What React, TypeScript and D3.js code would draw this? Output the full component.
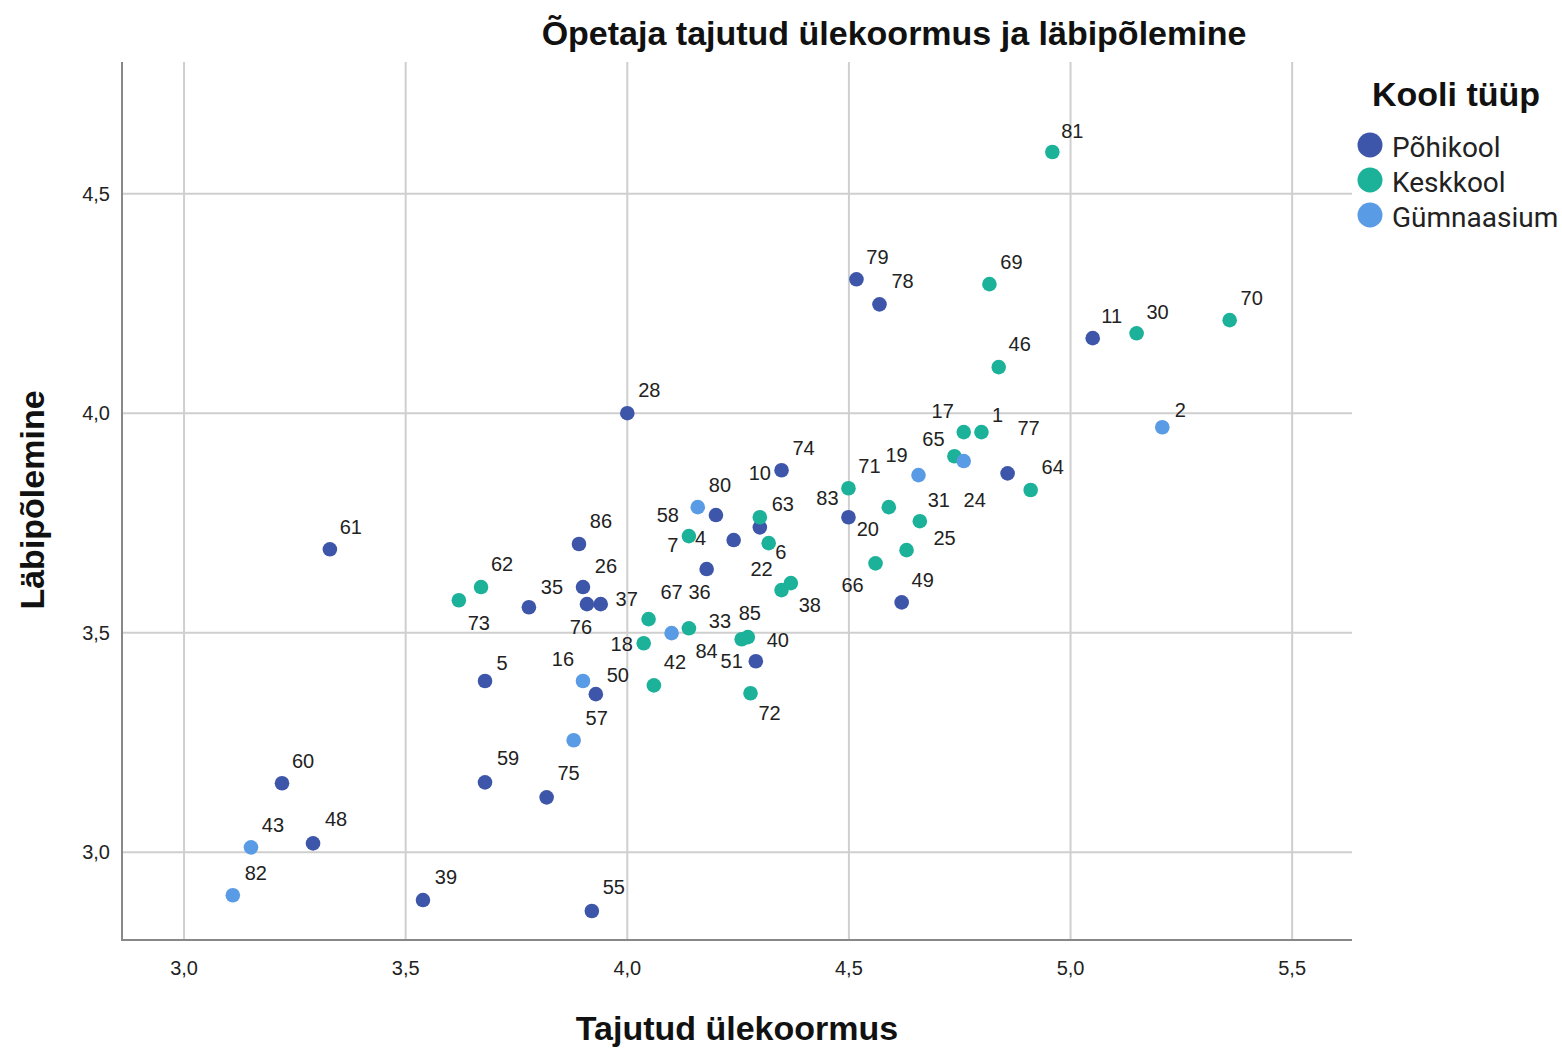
import React, { useEffect, useRef } from "react";
import * as d3 from "d3";

const groups = ["Põhikool", "Keskkool", "Gümnaasium"];
const groupColors = ["#3D56A9", "#1CB29A", "#5A9BE6"];

// Põhikool
const pIds = [61, 28, 86, 26, 35, 76, 37, 5, 50, 60, 59, 75, 48, 39, 55, 79, 78, 11, 74, 49, 77, 83, 40, 80, 10, 4, 36];
const pX = [3.329, 4.0, 3.891, 3.9, 3.778, 3.909, 3.94, 3.679, 3.929, 3.221, 3.679, 3.818, 3.291, 3.539, 3.92, 4.517, 4.569, 5.05, 4.348, 4.619, 4.858, 4.499, 4.29, 4.2, 4.299, 4.24, 4.179];
const pY = [3.69, 4.0, 3.702, 3.604, 3.558, 3.565, 3.565, 3.39, 3.36, 3.157, 3.159, 3.125, 3.02, 2.891, 2.866, 4.305, 4.248, 4.171, 3.87, 3.569, 3.863, 3.763, 3.435, 3.768, 3.74, 3.711, 3.645];

// Keskkool
const kIds = [81, 69, 30, 70, 46, 17, 1, 65, 64, 71, 20, 31, 25, 66, 63, 7, 6, 38, 22, 67, 33, 18, 42, 51, 85, 72, 62, 73];
const kX = [4.959, 4.817, 5.149, 5.359, 4.838, 4.759, 4.799, 4.738, 4.91, 4.499, 4.59, 4.66, 4.63, 4.56, 4.299, 4.139, 4.319, 4.369, 4.348, 4.048, 4.139, 4.037, 4.06, 4.258, 4.272, 4.278, 3.67, 3.62];
const kY = [4.595, 4.294, 4.182, 4.212, 4.105, 3.957, 3.957, 3.902, 3.825, 3.829, 3.786, 3.754, 3.688, 3.658, 3.763, 3.72, 3.704, 3.613, 3.597, 3.531, 3.51, 3.476, 3.38, 3.485, 3.49, 3.362, 3.604, 3.574];

// Gümnaasium
const gIds = [2, 24, 19, 58, 84, 16, 57, 43, 82];
const gX = [5.207, 4.759, 4.657, 4.159, 4.1, 3.9, 3.879, 3.151, 3.11];
const gY = [3.968, 3.891, 3.859, 3.786, 3.499, 3.39, 3.255, 3.011, 2.902];

const xTicks = [3.0, 3.5, 4.0, 4.5, 5.0, 5.5];
const yTicks = [3.0, 3.5, 4.0, 4.5];

// label placement offsets (px) relative to the point, keyed by case id
const labelOffsets: Record<number, [number, number]> = {
  61: [21, -22], 28: [22, -23], 86: [22, -23], 26: [23, -21], 35: [23, -20], 76: [-6, 23], 37: [26, -5],
  5: [17, -18], 50: [22, -19], 60: [21, -22], 59: [23, -24], 75: [22, -24], 48: [23, -24], 39: [23, -23],
  55: [22, -24], 79: [21, -22], 78: [23, -23], 11: [19, -22], 74: [22, -22], 49: [21, -22], 77: [21, -45],
  83: [-21, -19], 40: [22, -21], 80: [4, -30], 10: [0, -54], 4: [-33, -2], 36: [-7, 23],
  81: [20, -21], 69: [22, -22], 30: [21, -21], 70: [22, -22], 46: [21, -23], 17: [-21, -21], 1: [16, -17],
  65: [-21, -17], 64: [22, -23], 71: [21, -22], 20: [-21, 22], 31: [19, -21], 25: [38, -12], 66: [-23, 22],
  63: [23, -13], 7: [-16, 9], 6: [12, 9], 38: [19, 22], 22: [-20, -21], 67: [23, -27], 33: [31, -7],
  18: [-22, 1], 42: [21, -23], 51: [-10, 22], 85: [2, -24], 72: [19, 20], 62: [21, -23], 73: [20, 23],
  2: [18, -17], 24: [11, 39], 19: [-22, -20], 58: [-30, 8], 84: [35, 18], 16: [-20, -22], 57: [23, -22],
  43: [22, -22], 82: [23, -22],
};

type Pt = { id: number; x: number; y: number; g: number };

export default function App() {
  const ref = useRef<SVGSVGElement | null>(null);

  useEffect(() => {
    const svg = d3.select(ref.current);
    svg.selectAll("*").remove();
    const W = 1562, H = 1048;
    const left = 122, right = 1352, top = 62, bottom = 940;

    const x = d3.scaleLinear().domain([2.86, 5.635]).range([left, right]);
    const y = d3.scaleLinear().domain([2.8, 4.8]).range([bottom, top]);

    const pts: Pt[] = [];
    pIds.forEach((id, i) => pts.push({ id, x: pX[i], y: pY[i], g: 0 }));
    kIds.forEach((id, i) => pts.push({ id, x: kX[i], y: kY[i], g: 1 }));
    gIds.forEach((id, i) => pts.push({ id, x: gX[i], y: gY[i], g: 2 }));

    const fmt = (v: number) => d3.format(".1f")(v).replace(".", ",");
    const font = "'Liberation Sans', Arial, sans-serif";

    svg.append("rect").attr("width", W).attr("height", H).attr("fill", "#fff");

    // grid
    svg.append("g").selectAll("line").data(xTicks).join("line")
      .attr("x1", d => x(d)).attr("x2", d => x(d)).attr("y1", top).attr("y2", bottom)
      .attr("stroke", "#cfcfcf").attr("stroke-width", 2);
    svg.append("g").selectAll("line").data(yTicks).join("line")
      .attr("x1", left).attr("x2", right).attr("y1", d => y(d)).attr("y2", d => y(d))
      .attr("stroke", "#cfcfcf").attr("stroke-width", 2);

    // axes
    svg.append("line").attr("x1", left).attr("x2", left).attr("y1", top).attr("y2", bottom + 1)
      .attr("stroke", "#888").attr("stroke-width", 2);
    svg.append("line").attr("x1", left - 1).attr("x2", right).attr("y1", bottom).attr("y2", bottom)
      .attr("stroke", "#888").attr("stroke-width", 2);

    // tick labels
    svg.append("g").selectAll("text").data(xTicks).join("text")
      .attr("x", d => x(d)).attr("y", bottom + 35).attr("text-anchor", "middle")
      .attr("font-family", font).attr("font-size", 20).attr("fill", "#222").text(d => fmt(d));
    svg.append("g").selectAll("text").data(yTicks).join("text")
      .attr("x", left - 12).attr("y", d => y(d) + 7).attr("text-anchor", "end")
      .attr("font-family", font).attr("font-size", 20).attr("fill", "#222").text(d => fmt(d));

    // points
    svg.append("g").selectAll("circle").data(pts).join("circle")
      .attr("cx", d => x(d.x)).attr("cy", d => y(d.y)).attr("r", 7.3)
      .attr("fill", d => groupColors[d.g]);

    // labels
    svg.append("g").selectAll("text").data(pts).join("text")
      .attr("x", d => x(d.x) + (labelOffsets[d.id]?.[0] ?? 21))
      .attr("y", d => y(d.y) + (labelOffsets[d.id]?.[1] ?? -22) + 7)
      .attr("text-anchor", "middle")
      .attr("font-family", font).attr("font-size", 20).attr("fill", "#222")
      .text(d => String(d.id));

    // titles
    svg.append("text").attr("x", 894).attr("y", 45).attr("text-anchor", "middle")
      .attr("font-family", font).attr("font-weight", "bold").attr("font-size", 34)
      .attr("fill", "#111").text("Õpetaja tajutud ülekoormus ja läbipõlemine");
    svg.append("text").attr("x", 737).attr("y", 1040).attr("text-anchor", "middle")
      .attr("font-family", font).attr("font-weight", "bold").attr("font-size", 34)
      .attr("fill", "#111").text("Tajutud ülekoormus");
    svg.append("text").attr("transform", `translate(44, 500) rotate(-90)`)
      .attr("text-anchor", "middle")
      .attr("font-family", font).attr("font-weight", "bold").attr("font-size", 34)
      .attr("fill", "#111").text("Läbipõlemine");

    // legend
    const lg = svg.append("g");
    lg.append("text").attr("x", 1372).attr("y", 106)
      .attr("font-family", font).attr("font-weight", "bold").attr("font-size", 34)
      .attr("fill", "#111").text("Kooli tüüp");
    const items = lg.selectAll("g.item").data(groups).join("g").attr("class", "item")
      .attr("transform", (_, i) => `translate(0, ${145 + i * 35})`);
    items.append("circle").attr("cx", 1370).attr("cy", 0).attr("r", 12.5)
      .attr("fill", (_, i) => groupColors[i]);
    items.append("text").attr("x", 1392).attr("y", 12)
      .attr("font-family", "Roboto, 'Noto Sans', sans-serif").attr("font-size", 28)
      .attr("fill", "#222").text(d => d);
  }, []);

  return (
    <svg ref={ref} width={1562} height={1048} style={{ display: "block", position: "absolute", left: 0, top: 0 }} />
  );
}
